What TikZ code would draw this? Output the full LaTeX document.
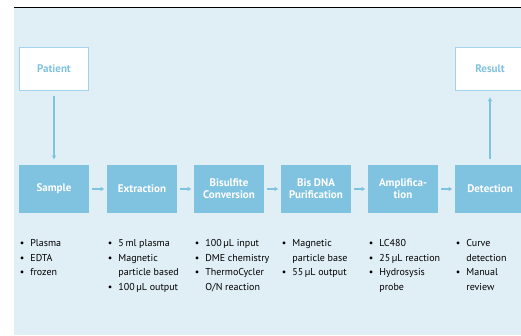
\documentclass[tikz,border=0pt]{standalone}
\usepackage{fontspec}
\setmainfont{PT Sans}
\usetikzlibrary{arrows.meta}
\definecolor{boxblue}{HTML}{80C3E0}
\definecolor{panelblue}{HTML}{E0EEF6}
\definecolor{edgeblue}{HTML}{A3D3EC}
\tikzset{every picture/.style={line width=0.75pt}}
\tikzset{stepbox/.style={fill=boxblue, text=white, minimum width=70pt, minimum height=48pt,
  inner sep=0pt, align=center, font=\fontsize{11}{12}\selectfont\bfseries}}
\tikzset{endbox/.style={fill=white, draw=edgeblue, line width=1pt, text=boxblue,
  minimum width=69pt, minimum height=43pt, inner sep=0pt, font=\fontsize{11}{12}\selectfont\bfseries}}
\tikzset{flow/.style={draw=boxblue, line width=1.5pt, -{Latex[length=4pt,width=4.5pt]}}}
\tikzset{notes/.style={anchor=base west, inner sep=0pt, font=\fontsize{10}{14.5}\selectfont}}
\newcommand\itemcol[1]{\begin{tabular}[t]{@{}l@{\hspace{6pt}}l@{}}#1\end{tabular}}

\begin{document}
\begin{tikzpicture}[x=1pt,y=-1pt]
\useasboundingbox (0,0) rectangle (521,335);
\clip (0,0) rectangle (521,335);
\fill[panelblue] (14,7) rectangle (521,335);
\draw[line width=1pt] (14,7) -- (521,7);
%
\node[endbox] (patient) at (54,69) {Patient};
\node[endbox] (result) at (490,69) {Result};
%
\node[stepbox] (sample) at (54,189) {Sample};
\node[stepbox] (extract) at (142,189) {Extraction};
\node[stepbox] (bisulf) at (229,189) {Bisulfite\\Conversion};
\node[stepbox] (purif) at (316,189) {Bis DNA\\Purification};
\node[stepbox] (amplif) at (403,189) {Amplifica-\\tion};
\node[stepbox] (detect) at (490,189) {Detection};
%
\draw[flow, shorten <=5pt, shorten >=5pt] (patient) -- (sample);
\draw[flow, shorten <=3pt, shorten >=2pt] (sample) -- (extract);
\draw[flow, shorten <=3pt, shorten >=2pt] (extract) -- (bisulf);
\draw[flow, shorten <=3pt, shorten >=2pt] (bisulf) -- (purif);
\draw[flow, shorten <=3pt, shorten >=2pt] (purif) -- (amplif);
\draw[flow, shorten <=3pt, shorten >=2pt] (amplif) -- (detect);
\draw[flow, shorten <=6pt, shorten >=6pt] (detect) -- (result);
%
\node[notes] (n1) at (19.5,246.5) {\itemcol{\textbullet & Plasma\\ \textbullet & EDTA\\ \textbullet & frozen}};
\node[notes] (n2) at (107.5,246.5) {\itemcol{\textbullet & 5\,ml plasma\\ \textbullet & Magnetic\\ & particle based\\ \textbullet & 100\,µL output}};
\node[notes] (n3) at (194.5,246.5) {\itemcol{\textbullet & 100\,µL input\\ \textbullet & DME chemistry\\ \textbullet & ThermoCycler\\ & O/N reaction}};
\node[notes] (n4) at (281.5,246.5) {\itemcol{\textbullet & Magnetic\\ & particle base\\ \textbullet & 55\,µL output}};
\node[notes] (n5) at (368.5,246.5) {\itemcol{\textbullet & LC480\\ \textbullet & 25\,µL reaction\\ \textbullet & Hydrosysis\\ & probe}};
\node[notes] (n6) at (455.5,246.5) {\itemcol{\textbullet & Curve\\ & detection\\ \textbullet & Manual\\ & review}};
\end{tikzpicture}
\end{document}
